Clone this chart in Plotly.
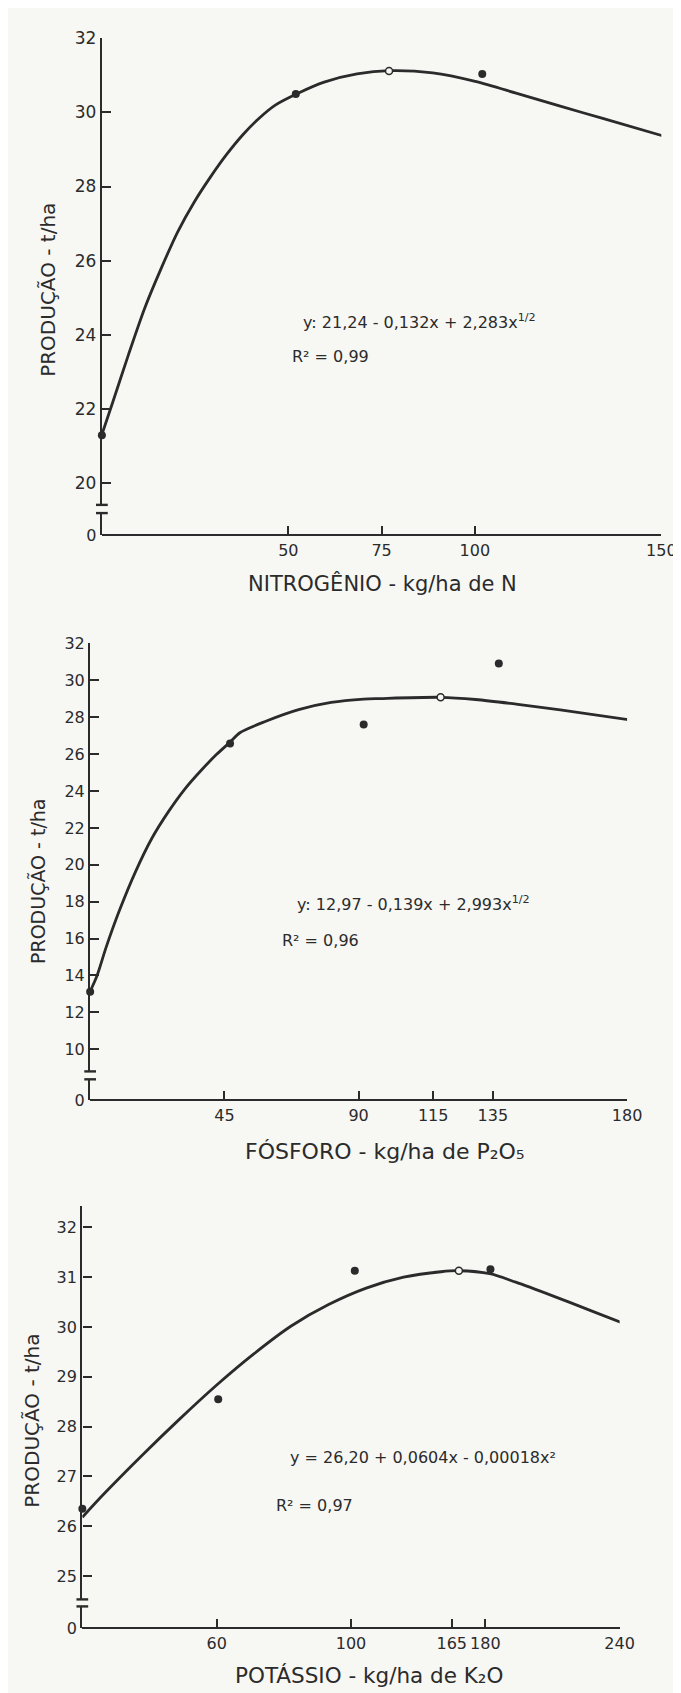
import plotly.graph_objects as go

W, H = 681, 1693
INK = "#2b2b2b"
BG = "#f7f7f4"
FONT = "DejaVu Sans"

# ---------------- data ----------------
# Panel 1 - Nitrogen
n_dose = [0, 52, 102, 151]
n_yield = [21.28, 30.5, 31.04, 29.14]
n_opt_x = [77]
n_opt_y = [31.12]
n_curve_x = [0, 2.8, 7.2, 11.5, 15.9, 20.3, 24.7, 29.0, 33.4, 37.8, 42.1, 46.5,
             52.6, 59.6, 68.4, 77.1, 88.7, 100.1, 111.5, 122.9, 134.3, 151.4]
n_curve_y = [21.3, 22.14, 23.48, 24.72, 25.79, 26.77, 27.57, 28.24, 28.86, 29.40, 29.84, 30.20,
             30.52, 30.82, 31.04, 31.13, 31.07, 30.84, 30.51, 30.17, 29.84, 29.34]
n_xtick_vals = [50, 75, 100, 150]
n_xtick_text = ["50", "75", "100", "150"]
n_ytick_vals = [20, 22, 24, 26, 28, 30, 32]

# Panel 2 - Phosphorus
p_dose = [0, 46.9, 91.7, 137, 181.4]
p_yield = [13.12, 26.57, 27.6, 30.91, 26.70]
p_opt_x = [117.5]
p_opt_y = [29.08]
p_curve_x = [0, 2.2, 5.4, 9.8, 15.3, 20.7, 26.2, 31.8, 37.1, 42.5, 46.9, 50.2, 58.9,
             69.9, 80.8, 91.7, 97.1, 117.5, 129.2, 143.4, 157.6, 181.1]
p_curve_y = [13.14, 13.94, 15.55, 17.52, 19.66, 21.44, 22.87, 24.12, 25.10, 26.0, 26.65, 27.16, 27.78,
             28.41, 28.80, 28.98, 29.01, 29.08, 28.96, 28.70, 28.40, 27.85]
p_xtick_vals = [45, 90, 115, 135, 180]
p_xtick_text = ["45", "90", "115", "135", "180"]
p_ytick_vals = [10, 12, 14, 16, 18, 20, 22, 24, 26, 28, 30, 32]

# Panel 3 - Potassium
k_dose = [0, 60.7, 121.7, 182.3, 241.6]
k_yield = [26.35, 28.55, 31.13, 31.16, 29.92]
k_opt_x = [168.2]
k_opt_y = [31.13]
k_curve_x = [0, 9.7, 26.4, 43.2, 59.9, 76.6, 93.3, 110, 126.8, 143.5, 160.2, 168.2,
             182, 193.6, 210.4, 227.1, 241.3]
k_curve_y = [26.18, 26.65, 27.41, 28.14, 28.83, 29.46, 30.02, 30.45, 30.78, 31.0, 31.11, 31.13,
             31.07, 30.90, 30.62, 30.33, 30.08]
k_xtick_vals = [60, 120, 165, 180, 240]
k_xtick_text = ["60", "100", "165", "180", "240"]
k_ytick_vals = [25, 26, 27, 28, 29, 30, 31, 32]

titles_x = ["NITROGÊNIO - kg/ha de N",
            "FÓSFORO - kg/ha de P₂O₅",
            "POTÁSSIO - kg/ha de K₂O"]
title_y = "PRODUÇÃO - t/ha"
equations = ["y: 21,24 - 0,132x + 2,283x<sup>1/2</sup>",
             "y: 12,97 - 0,139x + 2,993x<sup>1/2</sup>",
             "y = 26,20 + 0,0604x - 0,00018x²"]
r2_text = ["R² = 0,99", "R² = 0,96", "R² = 0,97"]

# ---------------- layout geometry (pixels) ----------------
panels = [
    dict(dose=n_dose, yld=n_yield, ox=n_opt_x, oy=n_opt_y, cx=n_curve_x, cy=n_curve_y,
         xtv=n_xtick_vals, xtt=n_xtick_text, ytv=n_ytick_vals,
         xl=96, xr=668, xmax=150, ytop=20.7, ybrk=492.7, ystub=501, yzero=523.3,
         yrange=[19.40, 32.0], tickfont=17,
         xt=(383, 572), xtsize=21, yt=(41, 275), ytsize=20,
         eq=(300, 307), r2=(288, 343)),
    dict(dose=p_dose, yld=p_yield, ox=p_opt_x, oy=p_opt_y, cx=p_curve_x, cy=p_curve_y,
         xtv=p_xtick_vals, xtt=p_xtick_text, ytv=p_ytick_vals,
         xl=84, xr=633, xmax=180, ytop=632.9, ybrk=1066, ystub=1074, yzero=1095.4,
         yrange=[8.80, 32.0], tickfont=16,
         xt=(386, 1147), xtsize=22, yt=(30, 873), ytsize=19,
         eq=(293, 896), r2=(278, 934)),
    dict(dose=k_dose, yld=k_yield, ox=k_opt_x, oy=k_opt_y, cx=k_curve_x, cy=k_curve_y,
         xtv=k_xtick_vals, xtt=k_xtick_text, ytv=k_ytick_vals,
         xl=76, xr=625.4, xmax=240, ytop=1201.7, ybrk=1600.3, ystub=1607.4, yzero=1629.6,
         yrange=[24.53, 32.44], tickfont=16,
         xt=(369, 1677), xtsize=21.5, yt=(25, 1419), ytsize=20,
         eq=(286, 1457), r2=(272, 1505)),
]


def px(x):
    return x / W


def py(y):
    return 1 - y / H


fig = go.Figure()
layout = {}
shapes = []
annotations = []

for i, p in enumerate(panels):
    xi = i + 1
    ym = 2 * i + 1
    ys = 2 * i + 2
    xname = "x" if xi == 1 else f"x{xi}"
    ymname = "y" if ym == 1 else f"y{ym}"
    ysname = f"y{ys}"
    xkey = "xaxis" if xi == 1 else f"xaxis{xi}"
    ymkey = "yaxis" if ym == 1 else f"yaxis{ym}"
    yskey = f"yaxis{ys}"

    # fitted curve
    fig.add_trace(go.Scatter(x=p["cx"], y=p["cy"], mode="lines",
                             line=dict(color=INK, width=2.8, shape="spline", smoothing=0.8),
                             xaxis=xname, yaxis=ymname, showlegend=False,
                             hoverinfo="skip", cliponaxis=False))
    # observed points
    fig.add_trace(go.Scatter(x=p["dose"], y=p["yld"], mode="markers",
                             marker=dict(color=INK, size=8),
                             xaxis=xname, yaxis=ymname, showlegend=False, cliponaxis=False))
    # optimum point (open)
    fig.add_trace(go.Scatter(x=p["ox"], y=p["oy"], mode="markers",
                             marker=dict(color=BG, size=7, line=dict(color=INK, width=1.5)),
                             xaxis=xname, yaxis=ymname, showlegend=False, cliponaxis=False))
    # stub axis holder (lower part of the broken y axis)
    fig.add_trace(go.Scatter(x=[None], y=[None], xaxis=xname, yaxis=ysname,
                             showlegend=False, hoverinfo="skip"))

    layout[xkey] = dict(domain=[px(p["xl"]), px(p["xr"])], range=[0, p["xmax"]],
                        anchor="free", position=py(p["yzero"]),
                        showline=True, linecolor=INK, linewidth=2.4,
                        ticks="inside", ticklen=8, tickwidth=2, tickcolor=INK,
                        tickvals=p["xtv"], ticktext=p["xtt"],
                        tickfont=dict(size=16, color=INK, family=FONT),
                        showgrid=False, zeroline=False)
    layout[ymkey] = dict(domain=[py(p["ybrk"]), py(p["ytop"])], range=p["yrange"],
                         anchor=xname, showline=True, linecolor=INK, linewidth=2.4,
                         ticks="inside", ticklen=9, tickwidth=2, tickcolor=INK,
                         tickvals=p["ytv"],
                         tickfont=dict(size=p["tickfont"], color=INK, family=FONT),
                         showgrid=False, zeroline=False)
    layout[yskey] = dict(domain=[py(p["yzero"]), py(p["ystub"])], range=[0, 1],
                         anchor=xname, showline=True, linecolor=INK, linewidth=2.4,
                         ticks="", tickvals=[0], ticktext=["0"],
                         tickfont=dict(size=16, color=INK, family=FONT),
                         showgrid=False, zeroline=False)

    # axis-break caps
    for yb in (p["ybrk"], p["ystub"]):
        shapes.append(dict(type="line", xref="paper", yref="paper",
                           x0=px(p["xl"] - 6), x1=px(p["xl"] + 6), y0=py(yb), y1=py(yb),
                           line=dict(color=INK, width=2.4)))

    annotations.append(dict(text=titles_x[i], x=px(p["xt"][0]), y=py(p["xt"][1]),
                            xref="paper", yref="paper", xanchor="center", yanchor="middle",
                            showarrow=False,
                            font=dict(size=p["xtsize"], color=INK, family=FONT)))
    annotations.append(dict(text=title_y, x=px(p["yt"][0]), y=py(p["yt"][1]),
                            xref="paper", yref="paper", xanchor="center", yanchor="middle",
                            textangle=-90, showarrow=False,
                            font=dict(size=p["ytsize"], color=INK, family=FONT)))
    annotations.append(dict(text=equations[i], x=px(p["eq"][0]), y=py(p["eq"][1]),
                            xref="paper", yref="paper", xanchor="left", yanchor="middle",
                            showarrow=False, font=dict(size=16, color=INK, family=FONT)))
    annotations.append(dict(text=r2_text[i], x=px(p["r2"][0]), y=py(p["r2"][1]),
                            xref="paper", yref="paper", xanchor="left", yanchor="middle",
                            showarrow=False, font=dict(size=16, color=INK, family=FONT)))

fig.update_layout(width=W, height=H, margin=dict(l=0, r=0, t=0, b=0),
                  paper_bgcolor=BG, plot_bgcolor=BG,
                  font=dict(family=FONT, color=INK),
                  shapes=shapes, annotations=annotations, showlegend=False,
                  **layout)

fig.write_html("out.html")
